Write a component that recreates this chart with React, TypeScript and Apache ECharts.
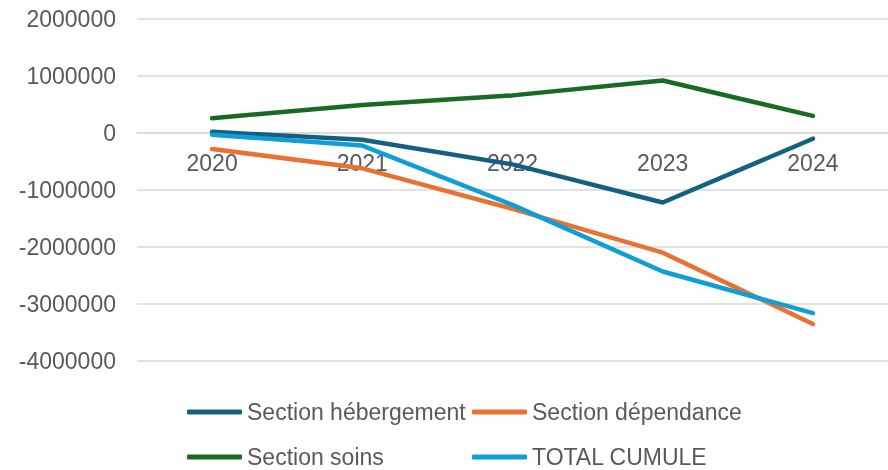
import React, { useEffect, useRef } from "react";
import * as echarts from "echarts";

const years = ["2020", "2021", "2022", "2023", "2024"];
const hebergement = [20000, -120000, -550000, -1220000, -100000];
const dependance = [-280000, -620000, -1330000, -2100000, -3350000];
const soins = [260000, 490000, 660000, 920000, 300000];
const totalCumule = [-30000, -220000, -1260000, -2430000, -3160000];

const yMin = -4000000;
const yMax = 2000000;
const yStep = 1000000;

const FONT = "'Liberation Sans', Arial, sans-serif";
const TEXT_COLOR = "#595959";

export default function App() {
  const ref = useRef<HTMLDivElement>(null);
  useEffect(() => {
    if (!ref.current) return;
    const chart = echarts.init(ref.current, undefined, { renderer: "svg" });
    const mk = (name: string, data: number[], color: string) => ({
      name,
      type: "line",
      data,
      symbol: "none",
      lineStyle: { color, width: 4.5, cap: "round", join: "round" },
      itemStyle: { color },
    });
    const lg = (name: string, left: number, top: number) => ({
      left,
      top,
      orient: "horizontal",
      icon: "roundRect",
      itemWidth: 55,
      itemHeight: 5,
      padding: 0,
      data: [name],
      textStyle: { fontSize: 23, color: TEXT_COLOR, fontFamily: FONT, lineHeight: 24 },
    });
    chart.setOption({
      animation: false,
      textStyle: { fontFamily: FONT },
      grid: { left: 137, right: -16, top: 19, bottom: 109, containLabel: false },
      xAxis: {
        type: "category",
        data: years,
        boundaryGap: true,
        offset: -228,
        axisLine: { show: true, onZero: false, lineStyle: { color: "#D9D9D9", width: 1.5 } },
        axisTick: { show: false },
        axisLabel: { fontSize: 23, color: TEXT_COLOR, fontFamily: FONT, margin: 18 },
        splitLine: { show: false },
      },
      yAxis: {
        type: "value",
        min: yMin,
        max: yMax,
        interval: yStep,
        axisLine: { show: false },
        axisTick: { show: false },
        axisLabel: {
          fontSize: 23,
          color: TEXT_COLOR,
          fontFamily: FONT,
          margin: 21,
          formatter: (v: number) => String(v),
        },
        splitLine: { lineStyle: { color: "#D9D9D9", width: 1.5 } },
      },
      legend: [
        lg("Section hébergement", 187, 400),
        lg("Section dépendance", 472, 400),
        lg("Section soins", 187, 445),
        lg("TOTAL CUMULE", 472, 445),
      ],
      series: [
        mk("Section hébergement", hebergement, "#156082"),
        mk("Section dépendance", dependance, "#E97132"),
        mk("Section soins", soins, "#196B24"),
        mk("TOTAL CUMULE", totalCumule, "#0F9ED5"),
      ],
    });
    return () => chart.dispose();
  }, []);
  return (
    <div
      ref={ref}
      style={{ position: "fixed", left: 0, top: 0, width: 888, height: 470 }}
    />
  );
}
